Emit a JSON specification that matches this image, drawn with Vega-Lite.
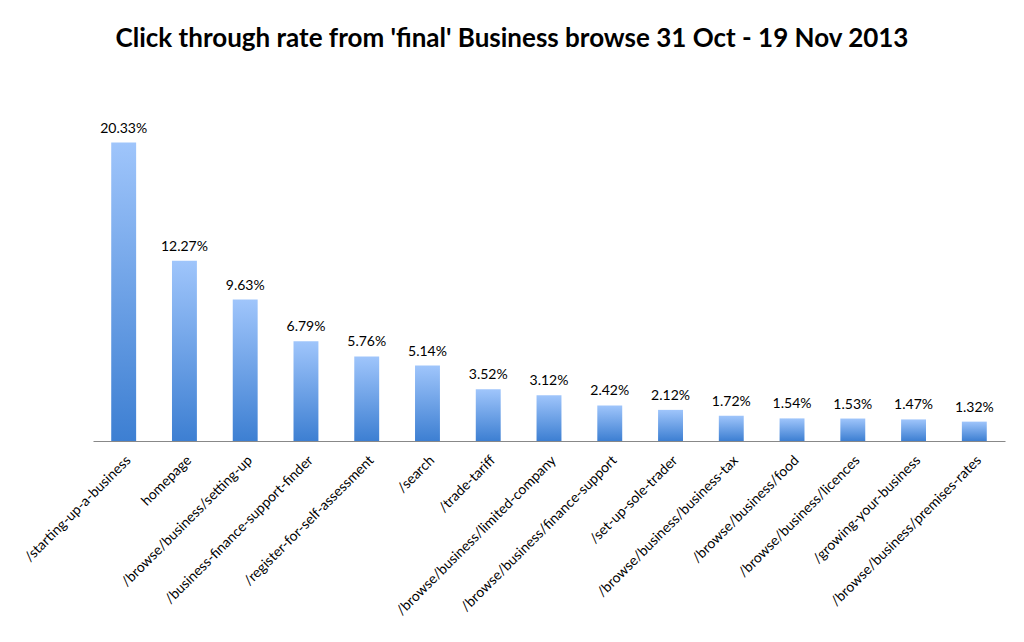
{
  "$schema": "https://vega.github.io/schema/vega-lite/v6.json",
  "autosize": "none",
  "width": 912,
  "height": 323,
  "padding": {"left": 93, "top": 118, "right": 19, "bottom": 201},
  "background": "white",
  "title": {
    "text": "Click through rate from 'final' Business browse 31 Oct - 19 Nov 2013",
    "font": "Lato",
    "fontSize": 26,
    "fontWeight": "bold",
    "color": "#000000",
    "anchor": "middle",
    "frame": "group",
    "dx": -37,
    "offset": 66
  },
  "data": {
    "values": [
      {"page": "/starting-up-a-business", "rate": 0.2033},
      {"page": "homepage", "rate": 0.1227},
      {"page": "/browse/business/setting-up", "rate": 0.0963},
      {"page": "/business-finance-support-finder", "rate": 0.0679},
      {"page": "/register-for-self-assessment", "rate": 0.0576},
      {"page": "/search", "rate": 0.0514},
      {"page": "/trade-tariff", "rate": 0.0352},
      {"page": "/browse/business/limited-company", "rate": 0.0312},
      {"page": "/browse/business/finance-support", "rate": 0.0242},
      {"page": "/set-up-sole-trader", "rate": 0.0212},
      {"page": "/browse/business/business-tax", "rate": 0.0172},
      {"page": "/browse/business/food", "rate": 0.0154},
      {"page": "/browse/business/licences", "rate": 0.0153},
      {"page": "/growing-your-business", "rate": 0.0147},
      {"page": "/browse/business/premises-rates", "rate": 0.0132}
    ]
  },
  "config": {"view": {"stroke": null}},
  "encoding": {
    "x": {
      "field": "page",
      "type": "nominal",
      "sort": null,
      "scale": {"paddingInner": 0.59, "paddingOuter": 0.3},
      "axis": {
        "title": null,
        "labelAngle": -45,
        "labelFont": "Lato",
        "labelFontSize": 14,
        "labelColor": "#000000",
        "labelPadding": 12,
        "ticks": false,
        "domainColor": "#888888",
        "domainWidth": 1.2,
        "labelLimit": 400
      }
    },
    "y": {
      "field": "rate",
      "type": "quantitative",
      "scale": {"domain": [0, 0.22]},
      "axis": null
    }
  },
  "layer": [
    {
      "mark": {
        "type": "bar",
        "color": {
          "gradient": "linear",
          "x1": 0, "y1": 0, "x2": 0, "y2": 1,
          "stops": [
            {"offset": 0, "color": "#9fc5fb"},
            {"offset": 1, "color": "#3d7fd2"}
          ]
        }
      }
    },
    {
      "mark": {
        "type": "text",
        "dy": -14,
        "font": "Lato",
        "fontSize": 14,
        "color": "#000000"
      },
      "encoding": {
        "text": {"field": "rate", "type": "quantitative", "format": ".2%"}
      }
    }
  ]
}
